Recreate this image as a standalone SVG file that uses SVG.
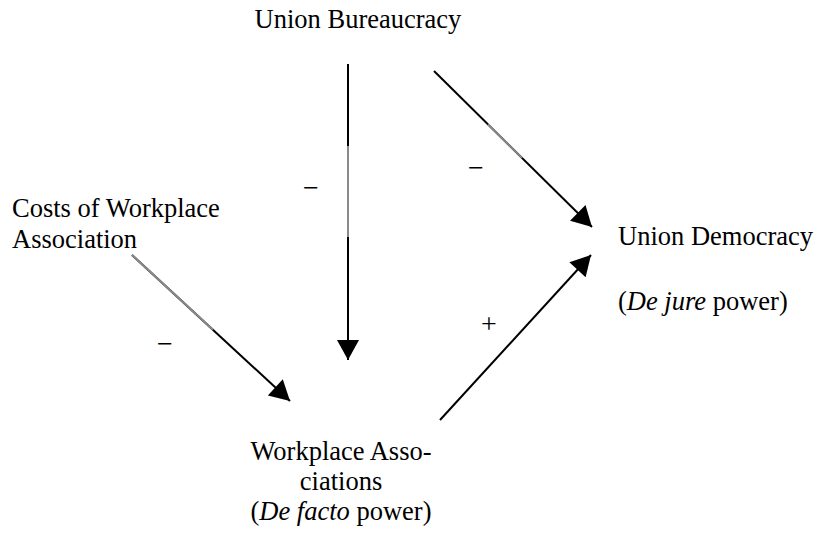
<svg xmlns="http://www.w3.org/2000/svg" width="817" height="533" viewBox="0 0 817 533">
<style>
.ln{stroke:#000;stroke-width:2;fill:none}
.gr{stroke:#8a8a8a;stroke-width:2;fill:none}
</style>
<defs>
<marker id="ah" markerUnits="userSpaceOnUse" markerWidth="22" markerHeight="22" viewBox="0 0 20 22" refX="20" refY="11" orient="auto">
<path d="M0,0 L20,11 L0,22 Z" fill="#000"/>
</marker>
</defs>
<g font-family="Liberation Serif" font-size="26.5" fill="#000">
<g id="union-bureaucracy"><text text-anchor="middle" x="358" y="28">Union Bureaucracy</text></g>
<g id="costs"><text x="12" y="217">Costs of Workplace</text><text x="12" y="248">Association</text></g>
<g id="union-democracy"><text x="618" y="245">Union Democracy</text><text x="618" y="310">(<tspan font-style="italic">De jure</tspan> power)</text></g>
<g id="workplace-associations" text-anchor="middle"><text x="341" y="460">Workplace Asso-</text><text x="341" y="490">ciations</text><text x="341" y="520">(<tspan font-style="italic">De facto</tspan> power)</text></g>
<g id="labels" text-anchor="middle" font-size="28">
<text x="311" y="197">−</text>
<text x="476" y="177">−</text>
<text x="165" y="353">−</text>
<text x="489" y="333">+</text>
</g>
</g>
<g id="connectors">
<line class="ln" x1="348" y1="64" x2="348" y2="360" marker-end="url(#ah)"/>
<line class="gr" x1="348" y1="146" x2="348" y2="237"/>
<line class="ln" x1="434" y1="71" x2="592" y2="227" marker-end="url(#ah)"/>
<line class="gr" x1="488" y1="124.3" x2="522" y2="157.9"/>
<line class="ln" x1="440" y1="420" x2="591" y2="255" marker-end="url(#ah)"/>
<line class="ln" x1="132" y1="255" x2="290" y2="401" marker-end="url(#ah)"/>
<line class="gr" x1="132" y1="255" x2="213" y2="329.8"/>
</g>
</svg>
